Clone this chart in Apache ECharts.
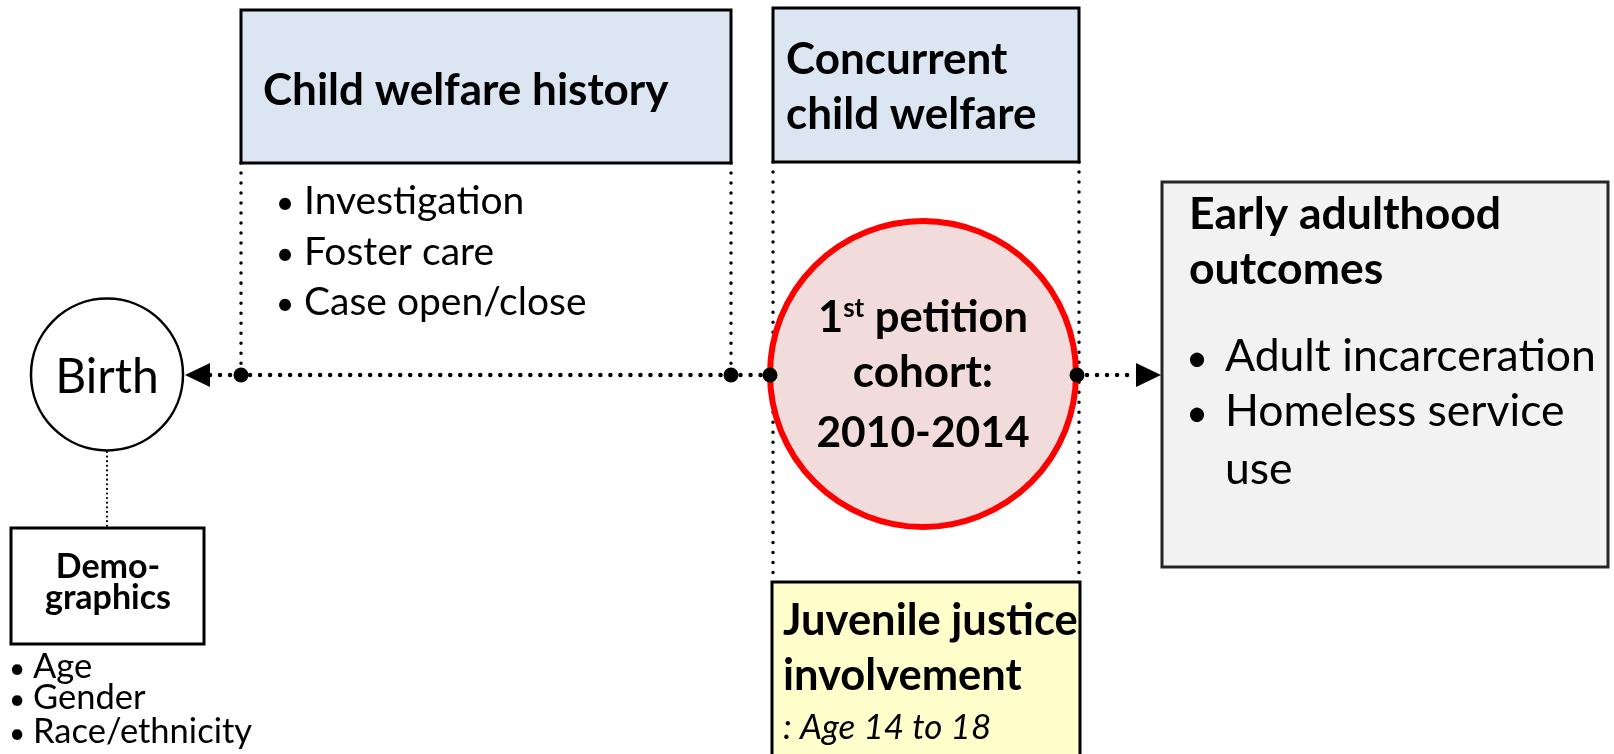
<!DOCTYPE html>
<html><head><meta charset="utf-8">
<script src="https://cdn.jsdelivr.net/npm/echarts@6/dist/echarts.min.js"></script>
<style>html,body{margin:0;padding:0;background:#fff;overflow:hidden}#c{width:1614px;height:754px}</style>
</head><body><div id="c"></div>
<script>
// ---------- content (texts) ----------
const historyTitle = ['Child welfare history'];
const historyItems = ['Investigation', 'Foster care', 'Case open/close'];
const concurrentTitle = ['Concurrent', 'child welfare'];
const cohortLines = ['{n|1}{s|st}{n| petition}', 'cohort:', '2010-2014'];
const outcomesTitle = ['Early adulthood', 'outcomes'];
const outcomesItems = ['Adult incarceration', 'Homeless service', 'use'];
const juvenileTitle = ['Juvenile justice', 'involvement'];
const juvenileNote = [': Age 14 to 18'];
const birthLabel = ['Birth'];
const demoTitle = ['Demo-', 'graphics'];
const demoItems = ['Age', 'Gender', 'Race/ethnicity'];
const bullet = ['\u2022'];

// ---------- layout (diagram units = px of 1614x754 canvas) ----------
const FONT = 'Lato, "Noto Sans", sans-serif';
const boxRects = [
  [241, 10, 731, 163],    // child welfare history
  [773, 8, 1079, 162],    // concurrent
  [1162, 182, 1608, 567], // early adulthood
  [772, 582, 1080, 775],  // juvenile
  [11, 528, 204, 644]     // demographics
];
const boxStyles = [
  { fill: '#dce6f2', stroke: '#000', lineWidth: 3 },
  { fill: '#dce6f2', stroke: '#000', lineWidth: 3 },
  { fill: '#f2f2f2', stroke: '#262626', lineWidth: 3 },
  { fill: '#ffffcc', stroke: '#000', lineWidth: 3 },
  { fill: '#ffffff', stroke: '#000', lineWidth: 3 }
];
const dottedLines = [
  [210, 375, 770, 375, 0],
  [1077, 375, 1136, 375, 0],
  [241, 163, 241, 375, 1],
  [731, 163, 731, 375, 1],
  [773, 162, 773, 582, 1],
  [1079, 162, 1079, 582, 1],
  [107, 452, 107, 528, 2]
];
const dotStyles = [
  { lineWidth: 4.5, lineDash: [0.01, 10] },
  { lineWidth: 3.5, lineDash: [0.01, 10] },
  { lineWidth: 2.2, lineDash: [0.01, 4.6] }
];
const joints = [[241, 375], [731, 375], [770, 375], [1077, 375]];
const arrows = [[185, 375, -1], [1161, 375, 1]]; // tip x, tip y, direction
const circles = [
  [107, 374.5, 76, 0],
  [923, 374, 153, 1]
];
const circleStyles = [
  { fill: '#ffffff', stroke: '#000', lineWidth: 2.5 },
  { fill: '#f2dcdb', stroke: '#ff0000', lineWidth: 6 }
];

// text placements
const texts = [];
function put(src, i, x, y, s, w, align, style) { texts.push({ src, i, x, y, s, w, align: align || 'left', style: style || 'normal' }); }
put(historyTitle, 0, 263, 104, 44, 'bold');
[213, 264, 314].forEach((y, i) => { put(bullet, 0, 285, y, 32, 'normal', 'center'); put(historyItems, i, 304, y, 39, 'normal'); });
[73, 128].forEach((y, i) => put(concurrentTitle, i, 786, y, 44, 'bold'));
put(birthLabel, 0, 107, 392, 48, 'normal', 'center');
[577, 608].forEach((y, i) => put(demoTitle, i, 108, y, 34, 'bold', 'center'));
[677, 708, 742].forEach((y, i) => { put(bullet, 0, 17, y, 28, 'normal', 'center'); put(demoItems, i, 33, y, 34.5, 'normal'); });
put(cohortLines, 0, 923, 331, 43.5, 'bold', 'center');
put(cohortLines, 1, 923, 386, 44, 'bold', 'center');
put(cohortLines, 2, 923, 446, 42.5, 'bold', 'center');
[228, 283].forEach((y, i) => put(outcomesTitle, i, 1189, y, 44.5, 'bold'));
[370, 425].forEach((y, i) => put(bullet, 0, 1197, y, 38, 'normal', 'center'));
[370, 425, 483].forEach((y, i) => put(outcomesItems, i, 1225, y, 44.5, 'normal'));
[634, 689].forEach((y, i) => put(juvenileTitle, i, 783, y, 43.5, 'bold'));
put(juvenileNote, 0, 783, 738, 35, 'normal', 'left', 'italic');

const MID = 0.30; // baseline -> middle offset (em)

const chart = echarts.init(document.getElementById('c'), null, { renderer: 'canvas' });
chart.setOption({
  animation: false,
  backgroundColor: '#ffffff',
  grid: { left: 0, right: 0, top: 0, bottom: 0 },
  xAxis: { type: 'value', min: 0, max: 1614, show: false },
  yAxis: { type: 'value', min: 0, max: 754, inverse: true, show: false },
  series: [
    {
      type: 'custom', name: 'dotted', z: 1,
      data: dottedLines,
      renderItem: (p, api) => {
        const a = api.coord([api.value(0), api.value(1)]);
        const b = api.coord([api.value(2), api.value(3)]);
        const st = dotStyles[api.value(4)];
        return { type: 'line', shape: { x1: a[0], y1: a[1], x2: b[0], y2: b[1] },
          style: { stroke: '#000', lineWidth: st.lineWidth, lineDash: st.lineDash, lineCap: 'round' } };
      }
    },
    {
      type: 'custom', name: 'boxes', z: 2,
      data: boxRects.map((r, i) => r.concat(i)),
      renderItem: (p, api) => {
        const a = api.coord([api.value(0), api.value(1)]);
        const b = api.coord([api.value(2), api.value(3)]);
        const st = boxStyles[api.value(4)];
        return { type: 'rect', shape: { x: a[0], y: a[1], width: b[0] - a[0], height: b[1] - a[1] },
          style: { fill: st.fill, stroke: st.stroke, lineWidth: st.lineWidth } };
      }
    },
    {
      type: 'custom', name: 'circles', z: 3,
      data: circles,
      renderItem: (p, api) => {
        const c = api.coord([api.value(0), api.value(1)]);
        const e = api.coord([api.value(0) + api.value(2), api.value(1)]);
        const st = circleStyles[api.value(3)];
        return { type: 'circle', shape: { cx: c[0], cy: c[1], r: e[0] - c[0] },
          style: { fill: st.fill, stroke: st.stroke, lineWidth: st.lineWidth } };
      }
    },
    {
      type: 'custom', name: 'arrows', z: 4,
      data: arrows,
      renderItem: (p, api) => {
        const d = api.value(2);
        const t = api.coord([api.value(0), api.value(1)]);
        const b1 = api.coord([api.value(0) - d * 25, api.value(1) - 12]);
        const b2 = api.coord([api.value(0) - d * 25, api.value(1) + 12]);
        return { type: 'polygon', shape: { points: [t, b1, b2] }, style: { fill: '#000' } };
      }
    },
    {
      type: 'scatter', name: 'joints', z: 5,
      data: joints, symbol: 'circle', symbolSize: 15,
      itemStyle: { color: '#000', opacity: 1 }, silent: true
    },
    {
      type: 'custom', name: 'texts', z: 6,
      data: texts.map((t, i) => [t.x, t.y, i]),
      renderItem: (p, api) => {
        const t = texts[api.value(2)];
        const pt = api.coord([t.x, t.y - t.s * MID]);
        return { type: 'text', x: pt[0], y: pt[1],
          style: {
            text: t.src[t.i], fill: '#000', fontFamily: FONT, fontSize: t.s, fontWeight: t.w,
            fontStyle: t.style, align: t.align, verticalAlign: 'middle',
            rich: {
              n: { fontFamily: FONT, fontSize: t.s, fontWeight: 'bold', fill: '#000' },
              s: { fontFamily: FONT, fontSize: Math.round(t.s * 0.6), fontWeight: 'bold', fill: '#000', verticalAlign: 'top' }
            }
          } };
      }
    }
  ]
});
</script></body></html>
